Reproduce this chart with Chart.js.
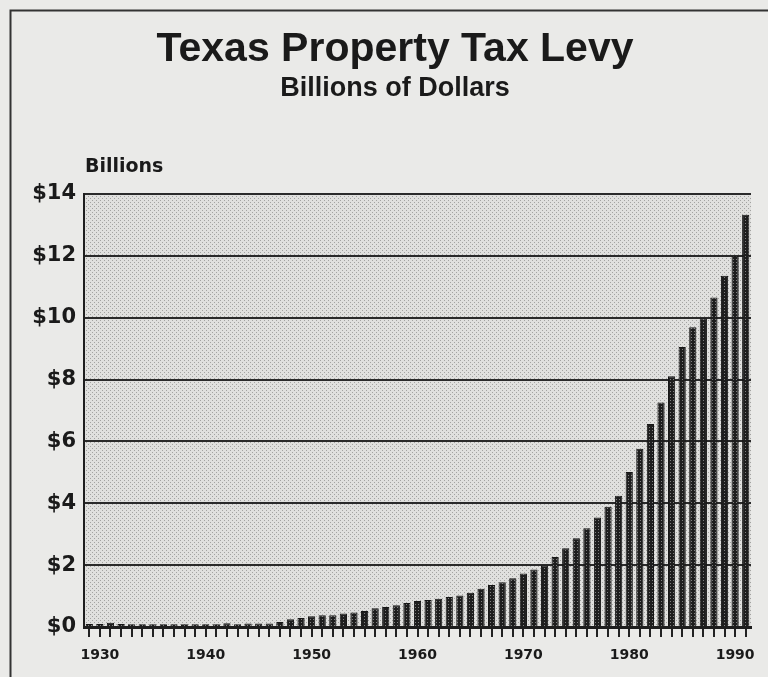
<!DOCTYPE html>
<html>
<head>
<meta charset="utf-8">
<title>Texas Property Tax Levy</title>
<script src="https://cdn.jsdelivr.net/npm/chart.js@4.4.1/dist/chart.umd.min.js"></script>
<style>
body { margin: 0; background: #eaeae8; }
canvas { display: block; }
</style>
</head>
<body>
<canvas id="levy" width="768" height="677"></canvas>
<script>
// Years on the x axis, one bar each
var years = [
    1929, 1930, 1931, 1932, 1933, 1934, 1935, 1936, 1937, 1938,
    1939, 1940, 1941, 1942, 1943, 1944, 1945, 1946, 1947, 1948,
    1949, 1950, 1951, 1952, 1953, 1954, 1955, 1956, 1957, 1958,
    1959, 1960, 1961, 1962, 1963, 1964, 1965, 1966, 1967, 1968,
    1969, 1970, 1971, 1972, 1973, 1974, 1975, 1976, 1977, 1978,
    1979, 1980, 1981, 1982, 1983, 1984, 1985, 1986, 1987, 1988,
    1989, 1990, 1991
];

// Levy, billions of dollars
var levy = [
    0.10, 0.10, 0.14, 0.10, 0.09, 0.09, 0.09, 0.09, 0.09, 0.09,
    0.09, 0.09, 0.09, 0.12, 0.09, 0.11, 0.11, 0.11, 0.16, 0.25,
    0.29, 0.35, 0.38, 0.38, 0.44, 0.47, 0.52, 0.61, 0.65, 0.70,
    0.78, 0.84, 0.87, 0.91, 0.97, 1.02, 1.11, 1.24, 1.36, 1.45,
    1.58, 1.73, 1.86, 1.99, 2.26, 2.55, 2.87, 3.19, 3.54, 3.89,
    4.24, 5.01, 5.76, 6.56, 7.26, 8.11, 9.05, 9.69, 9.98, 10.65,
    11.36, 12.00, 13.33
];

var year_labels = [1930, 1940, 1950, 1960, 1970, 1980, 1990];
var y_ticks = [0, 2, 4, 6, 8, 10, 12, 14];

var title_text = 'Texas Property Tax Levy';
var subtitle_text = 'Billions of Dollars';
var unit_text = 'Billions';

function make_pattern(size, base, dot, spots)
{
    var c = document.createElement('canvas');
    c.width = size;
    c.height = size;
    var g = c.getContext('2d');
    g.fillStyle = base;
    g.fillRect(0, 0, size, size);
    g.fillStyle = dot;
    spots.forEach(function(s) {
	g.fillRect(s[0], s[1], 1, 1);
    });
    return g.createPattern(c, 'repeat');
}

var ctx = document.getElementById('levy').getContext('2d');

var paper = make_pattern(4, '#e0e0de', '#a3a3a1', [[0, 0], [2, 2]]);
var ink = make_pattern(3, '#1e1e1e', '#808080', [[1, 1]]);

var sheet = {
    id: 'sheet',
    beforeDraw: function(chart) {
	var c = chart.ctx;
	var a = chart.chartArea;
	c.save();
	c.fillStyle = '#eaeae8';
	c.fillRect(0, 0, chart.width, chart.height);
	c.fillStyle = paper;
	c.fillRect(a.left, a.top, a.right - a.left, a.bottom - a.top);
	// frame of the page
	c.strokeStyle = '#333333';
	c.lineWidth = 2;
	c.beginPath();
	c.moveTo(10.5, chart.height);
	c.lineTo(10.5, 10.5);
	c.lineTo(chart.width, 10.5);
	c.stroke();
	c.restore();
    },
    afterDraw: function(chart) {
	var c = chart.ctx;
	c.save();
	c.fillStyle = '#1a1a1a';
	c.textAlign = 'center';
	c.textBaseline = 'alphabetic';
	c.font = 'bold 41px "Liberation Sans", Arial, sans-serif';
	c.fillText(title_text, 395, 61);
	c.font = 'bold 27px "Liberation Sans", Arial, sans-serif';
	c.fillText(subtitle_text, 395, 96);
	c.textAlign = 'left';
	c.font = 'bold 19px "DejaVu Sans", sans-serif';
	c.fillText(unit_text, 85, 172);
	c.restore();
    }
};

new Chart(ctx, {
    type: 'bar',
    data: {
	labels: years,
	datasets: [{
	    label: 'Property tax levy',
	    data: levy,
	    backgroundColor: ink,
	    borderColor: '#161616',
	    borderWidth: 1,
	    categoryPercentage: 1.0,
	    barPercentage: 0.68
	}]
    },
    options: {
	responsive: false,
	animation: false,
	layout: {
	    padding: { top: 194, right: 17, bottom: 0, left: 0 }
	},
	plugins: {
	    legend: { display: false },
	    tooltip: { enabled: false }
	},
	scales: {
	    x: {
		offset: true,
		grid: {
		    offset: false,
		    drawOnChartArea: false,
		    drawTicks: true,
		    tickLength: 10,
		    color: '#222222',
		    lineWidth: 2
		},
		border: { display: true, color: '#1e1e1e', width: 3 },
		ticks: {
		    autoSkip: false,
		    maxRotation: 0,
		    padding: 10,
		    color: '#1a1a1a',
		    font: { family: '"DejaVu Sans", sans-serif', size: 14, weight: 'bold' },
		    callback: function(v, i) {
			var y = years[i];
			return year_labels.indexOf(y) >= 0 ? String(y) : '';
		    }
		},
		afterFit: function(scale) {
		    scale.height = 50;
		}
	    },
	    y: {
		min: 0,
		max: 14,
		afterBuildTicks: function(scale) {
		    scale.ticks = y_ticks.map(function(v) { return { value: v }; });
		},
		grid: {
		    drawTicks: false,
		    color: '#2a2a2a',
		    lineWidth: 2
		},
		border: { display: true, color: '#1e1e1e', width: 2 },
		ticks: {
		    padding: 8,
		    color: '#1a1a1a',
		    font: { family: '"DejaVu Sans", sans-serif', size: 21, weight: 'bold' },
		    callback: function(v) { return '$' + v; }
		},
		afterFit: function(scale) {
		    scale.width = 84;
		}
	    }
	}
    },
    plugins: [sheet]
});
</script>
</body>
</html>
